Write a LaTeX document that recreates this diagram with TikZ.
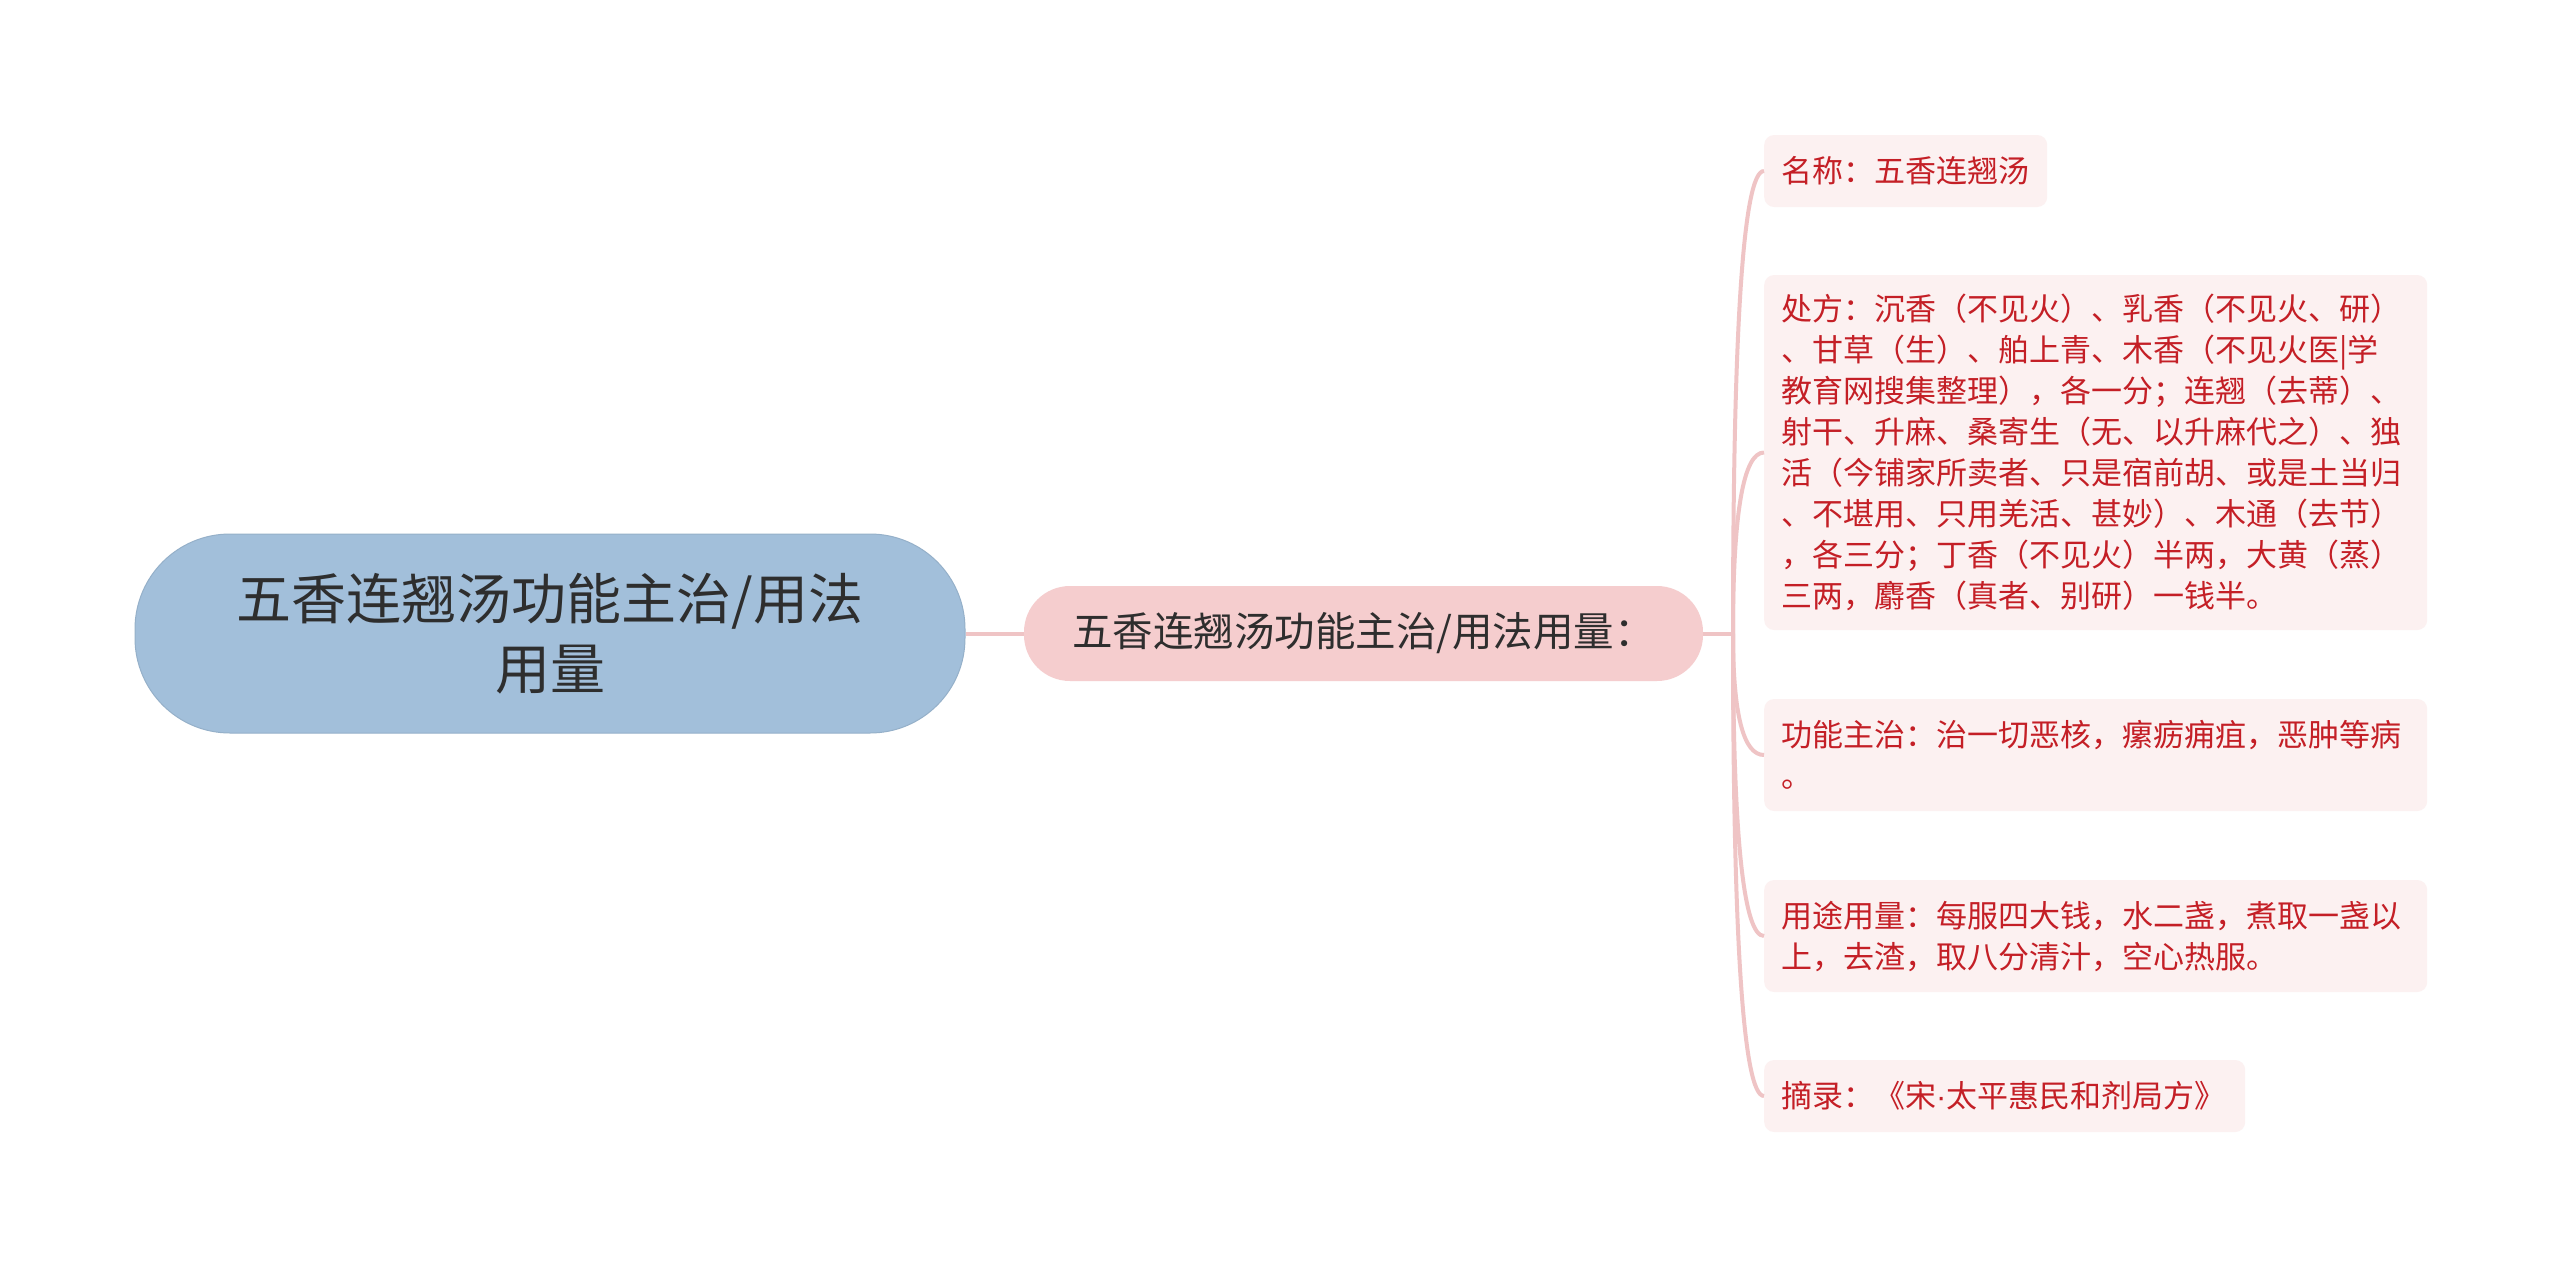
\documentclass[tikz,border=0pt]{standalone}
\usepackage{fontspec}
\newfontfamily\cjk{Noto Sans CJK SC}
\newfontfamily\latinfont{Liberation Sans}
\usetikzlibrary{calc}
\definecolor{rootfill}{HTML}{A2BFDA}
\definecolor{midfill}{HTML}{F5CDCE}
\definecolor{leaffill}{HTML}{FCF1F1}
\definecolor{leaftext}{HTML}{C41F26}
\definecolor{linkc}{HTML}{EFC4C5}
\definecolor{darktext}{HTML}{2E2E2E}
\tikzset{
  rootbox/.style={fill=rootfill, draw=rootfill!92!black, line width=1pt, rounded corners=95pt,
    minimum width=830pt, minimum height=199pt, align=center, text=darktext,
    font=\cjk\fontsize{55}{70}\selectfont, inner sep=0pt},
  midbox/.style={fill=midfill, rounded corners=46pt, minimum width=679pt, minimum height=95pt,
    text=darktext, font=\cjk\fontsize{40.5}{47}\selectfont, inner sep=0pt},
  leafbox/.style={fill=leaffill, rounded corners=10pt, anchor=west, align=left, text=leaftext,
    font=\cjk\fontsize{31}{41}\selectfont, inner xsep=17pt, inner ysep=0pt},
  link/.style={draw=linkc, line width=4pt},
}
\begin{document}
\begin{tikzpicture}[x=1pt,y=-1pt]
\fill[white] (0,0) rectangle (2560,1267);
\useasboundingbox (0,0) rectangle (2560,1267);

\node[rootbox] (root) at (550,633.5) {五香连翘汤功能主治/用法\\用量};
\node[midbox] (mid) at (1363.5,633.5) {五香连翘汤功能主治/用法用量：};

\node[leafbox, text width=249pt, minimum height=72pt] (l1) at (1764,171) {名称：五香连翘汤};
\node[leafbox, text width=629pt, minimum height=355pt] (l2) at (1764,452.5) {处方：沉香（不见火）、乳香（不见火、研）\\
、甘草（生）、舶上青、木香（不见火医|学\\
教育网搜集整理），各一分；连翘（去蒂）、\\
射干、升麻、桑寄生（无、以升麻代之）、独\\
活（今铺家所卖者、只是宿前胡、或是土当归\\
、不堪用、只用羌活、甚妙）、木通（去节）\\
，各三分；丁香（不见火）半两，大黄（蒸）\\
三两，麝香（真者、别研）一钱半。};
\node[leafbox, text width=629pt, minimum height=112pt] (l3) at (1764,755) {功能主治：治一切恶核，瘰疬痈疽，恶肿等病\\。};
\node[leafbox, text width=629pt, minimum height=112pt] (l4) at (1764,936) {用途用量：每服四大钱，水二盏，煮取一盏以\\上，去渣，取八分清汁，空心热服。};
\node[leafbox, text width=447pt, minimum height=72pt] (l5) at (1764,1096) {摘录：《宋{\latinfont ·}太平惠民和剂局方》};

\coordinate (jn) at (1733,633.5);
\draw[link] (root.east) -- (mid.west);
\draw[link] (mid.east) -- (jn);
\foreach \l in {l1,l2,l3,l4,l5}{
  \draw[link] (jn) .. controls ($(jn)!2/3!(jn|-\l.west)$) and ($(\l.west)!2/3!(jn|-\l.west)$) .. (\l.west);
}
\end{tikzpicture}
\end{document}
